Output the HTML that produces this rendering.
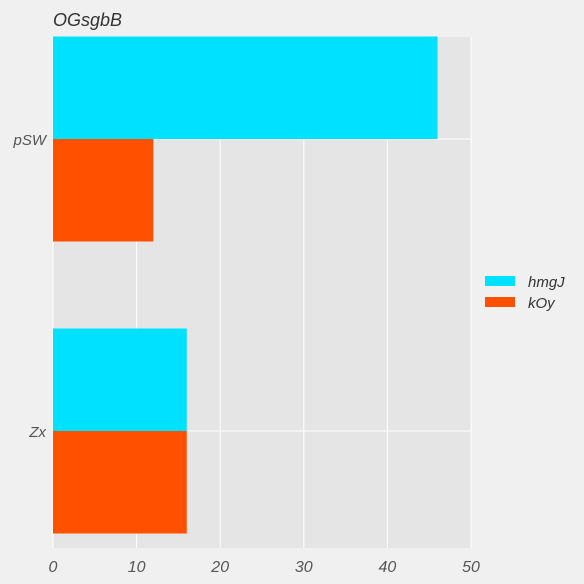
<!DOCTYPE html>
<html><head><meta charset="utf-8"><style>
body{margin:0;background:#f0f0f0;}
svg{display:block;font-family:"Liberation Sans",sans-serif;font-style:italic;}
</style></head><body>
<svg id="c" width="584" height="584">
<rect x="0" y="0" width="584" height="584" fill="#f0f0f0"/>
<text x="53" y="26" font-size="18" fill="#333">OGsgbB</text>
<rect x="53" y="37" width="418" height="511" fill="#e5e5e5"/>
<g id="grid"></g><g id="bars"></g><g id="axes"></g>
<g>
<rect x="485" y="276" width="30" height="10" fill="#00e1ff"/>
<text x="528" y="287" font-size="15" fill="#333">hmgJ</text>
<rect x="485" y="297" width="30" height="10" fill="#ff5000"/>
<text x="528" y="308" font-size="15" fill="#333">kOy</text>
</g>
</svg>
<script>
const categories=["pSW","Zx"];
const hmgJ=[46,16];
const kOy=[12,16];
const xTicks=[0,10,20,30,40,50];
const NS="http://www.w3.org/2000/svg";
const x=v=>53+v*8.36;
const yc=i=>139+i*292;
const bh=102.5;
function mk(t,a,p){const e=document.createElementNS(NS,t);for(const k in a)e.setAttribute(k,a[k]);p.appendChild(e);return e;}
const grid=document.getElementById('grid'),bars=document.getElementById('bars'),axes=document.getElementById('axes');
xTicks.forEach(t=>{
 const l=mk('line',{x1:x(t),x2:x(t),y1:37,y2:548,stroke:'#fff','stroke-width':1},grid);
 
 
 const tx=mk('text',{x:x(t),y:572,'text-anchor':'middle','font-size':16,fill:'#555'},axes);
 tx.textContent=t;
 
 
});
categories.forEach((c,i)=>{
 const l=mk('line',{x1:53,x2:471,y1:yc(i),y2:yc(i),stroke:'#fff','stroke-width':1},grid);
 
 
 const b1=mk('rect',{x:x(0),y:yc(i)-bh,width:x(hmgJ[i])-x(0),height:bh,fill:'#00e1ff'},bars);
 
 
 const b2=mk('rect',{x:x(0),y:yc(i),width:x(kOy[i])-x(0),height:bh,fill:'#ff5000'},bars);
 
 
 const tx=mk('text',{x:46,y:yc(i)+6,'text-anchor':'end','font-size':15,fill:'#555'},axes);
 tx.textContent=c;
 
 
});
</script>
</body></html>
